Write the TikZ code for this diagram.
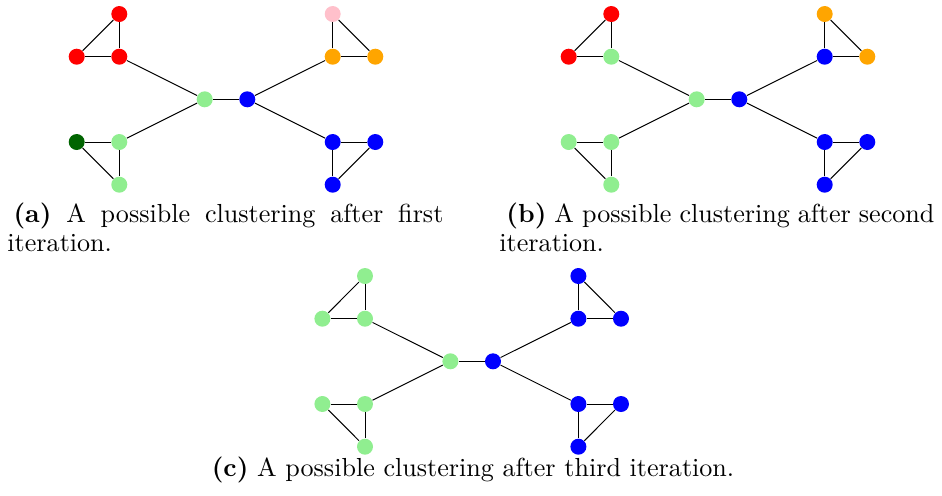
\documentclass[tikz,border=0pt]{standalone}
\definecolor{lgreen}{RGB}{144,238,144}
\definecolor{dgreen}{RGB}{0,100,0}
\definecolor{orng}{RGB}{255,165,0}
\definecolor{pnk}{RGB}{255,192,203}
\definecolor{blu}{RGB}{0,0,255}
\definecolor{rd}{RGB}{255,0,0}
\tikzset{
  vtx/.style={circle, draw=none, inner sep=0pt, minimum size=6.62pt},
  edgeline/.style={draw=black, line width=0.4pt},
  captext/.style={inner sep=0pt, font=\fontsize{10.8}{12.2}\selectfont},
}
\newcommand\mygraph[4]{%
  \begin{scope}[shift={(#2,#3)}]
    \foreach \x/\y [count=\k] in {119.3/14, 76.7/56.7, 119.3/56.7, 204.7/99.3, 247.3/99.3,
        332.7/14, 332.7/56.7, 375.3/56.7, 76.7/142, 119.3/142, 119.3/184.7,
        332.7/142, 375.3/142, 332.7/184.7}
      {\coordinate (#1p\k) at (\x,\y);}
    \foreach \c [count=\k] in {#4}
      {\node[vtx, fill=\c] (#1\k) at (#1p\k) {};}
    \foreach \u/\v in {1/2,1/3,2/3,3/4,4/5,5/7,6/7,6/8,7/8,9/10,9/11,10/11,10/4,12/13,12/14,13/14,5/12}
      {\draw[edgeline] (#1\u) -- (#1\v);}
  \end{scope}}
\begin{document}
\begin{tikzpicture}[x=0.4138pt, y=-0.4138pt]
  \useasboundingbox (0,0) rectangle (942,495);
  \mygraph{a}{0}{0}{rd,rd,rd,lgreen,blu,pnk,orng,orng,dgreen,lgreen,lgreen,blu,blu,blu}
  \mygraph{b}{492}{0}{rd,rd,lgreen,lgreen,blu,orng,blu,orng,lgreen,lgreen,lgreen,blu,blu,blu}
  \mygraph{c}{245.7}{262}{lgreen,lgreen,lgreen,lgreen,blu,blu,blu,blu,lgreen,lgreen,lgreen,blu,blu,blu}
  \node[captext, anchor=base west] (capa) at (7,222)
    {\parbox[t]{180.4pt}{\hspace*{2.5pt}\textbf{(a)} A possible clustering after first\linebreak iteration.}};
  \node[captext, anchor=base west] (capb) at (499,222)
    {\parbox[t]{180.0pt}{\hspace*{2.9pt}\textbf{(b)} A possible clustering after second\linebreak iteration.}};
  \node[captext, anchor=base] (capc) at (473,476)
    {\textbf{(c)} A possible clustering after third iteration.};
\end{tikzpicture}
\end{document}
